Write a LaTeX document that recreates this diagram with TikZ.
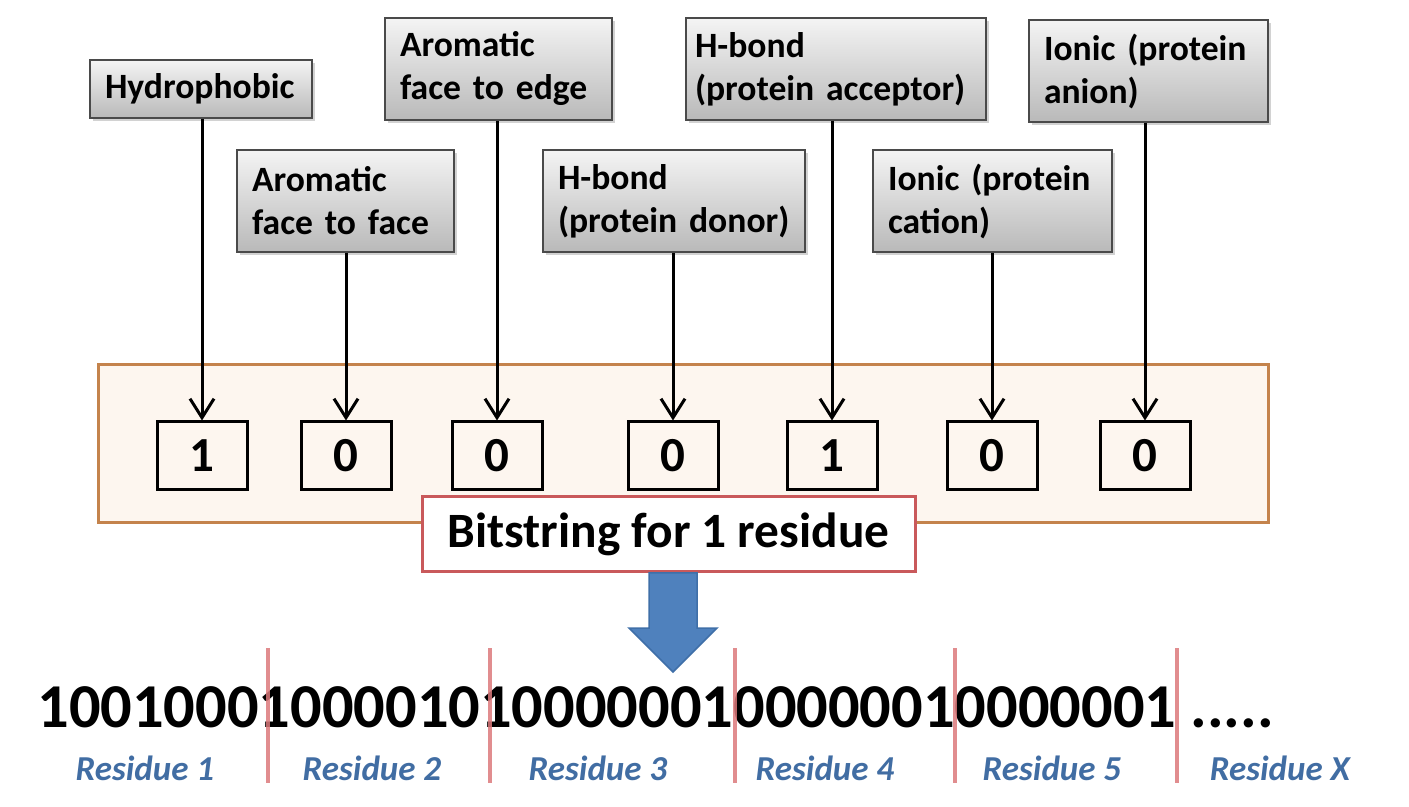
\documentclass[tikz,border=0pt]{standalone}
\usepackage{fontspec}
\setmainfont{Carlito}
\usetikzlibrary{arrows.meta,shadows}
\definecolor{boxborder}{HTML}{4A4A4A}
\definecolor{gtop}{HTML}{F4F4F4}
\definecolor{gbot}{HTML}{B9B9B9}
\definecolor{panelfill}{HTML}{FDF6EF}
\definecolor{panelline}{HTML}{C4834C}
\definecolor{labline}{HTML}{C9595B}
\definecolor{bigarrow}{HTML}{4F81BD}
\definecolor{bigarrowline}{HTML}{3F6FA8}
\definecolor{sepline}{HTML}{DC7A7C}
\definecolor{resblue}{HTML}{416DA3}
\newcommand\nohyph{\hyphenpenalty=10000 \exhyphenpenalty=10000 }
\begin{document}
\begin{tikzpicture}[x=0.5pt,y=-0.5pt,
  feat/.style={draw=boxborder, line width=1pt, top color=gtop, bottom color=gbot,
    drop shadow={shadow xshift=1.5pt, shadow yshift=-1.5pt, opacity=0.35},
    align=left, inner xsep=7.5pt, inner ysep=0pt,
    font={\fontsize{17.8}{21.5}\selectfont\bfseries\nohyph},
    text width=#1, minimum height=51pt},
  bitbox/.style={draw=black, line width=1.5pt, minimum width=45pt, minimum height=34pt,
    inner sep=0pt, font=\fontsize{24.5}{29}\selectfont\bfseries},
  conn/.style={-{Straight Barb[length=9.5pt,width=12pt]}, line width=1.5pt},
  sepbar/.style={draw=sepline, line width=2pt, opacity=0.85},
  res/.style={text=resblue, font=\fontsize{17.5}{21}\selectfont\bfseries\itshape, inner sep=0pt}
]
\useasboundingbox[fill=white] (0,0) rectangle (1409,807);

% panel
\node (panel) [draw=panelline, fill=panelfill, line width=1.5pt, minimum width=585pt, minimum height=79pt] at (683,444) {};

% bit boxes
\node (bit1) [bitbox] at (202,456) {1};
\node (bit2) [bitbox] at (346,456) {0};
\node (bit3) [bitbox] at (497,456) {0};
\node (bit4) [bitbox] at (673,456) {0};
\node (bit5) [bitbox] at (832,456) {1};
\node (bit6) [bitbox] at (992,456) {0};
\node (bit7) [bitbox] at (1145,456) {0};

% feature labels
\node (lab1) [feat=96pt, minimum height=29pt] at (201,89) {Hydrophobic};
\node (lab2) [feat=93.5pt] at (345.5,201) {Aromatic\\face to face};
\node (lab3) [feat=98.5pt] at (498.5,69) {Aromatic\\face to edge};
\node (lab4) [feat=116pt] at (674,201) {H-bond\\(protein donor)};
\node (lab5) [feat=141pt, inner xsep=4.5pt] at (836,69) {H-bond\\(protein acceptor)};
\node (lab6) [feat=104.5pt] at (992.5,201) {Ionic (protein\\cation)};
\node (lab7) [feat=104.5pt] at (1148.5,71) {Ionic (protein\\anion)};

% arrows
\foreach \i in {1,...,7}{
  \draw[conn] (lab\i.south -| bit\i.north) -- (bit\i.north);
}

% bitstring label
\node (bs) [draw=labline, line width=1.5pt, fill=white, minimum width=246.5pt, minimum height=37.5pt,
  font=\fontsize{24.7}{29}\selectfont\bfseries] at (668.5,534.5) {Bitstring for 1 residue};

% big blue arrow
\coordinate (ba) at (673,573);
\draw[fill=bigarrow, draw=bigarrowline, line width=0.75pt]
  ([xshift=-12pt]ba) -- ([xshift=12pt]ba) -- ([xshift=12pt,yshift=-27.5pt]ba)
  -- ([xshift=22pt,yshift=-27.5pt]ba) -- ([yshift=-49.5pt]ba)
  -- ([xshift=-22pt,yshift=-27.5pt]ba) -- ([xshift=-12pt,yshift=-27.5pt]ba) -- cycle;

% bit string
\node (bits) [anchor=base west, inner sep=0pt, font=\fontsize{31.2}{36}\selectfont\bfseries] at (37,727)
  {100100010000101000000100000010000001 .....};

% separators
\foreach \x in {268,490,735,955,1177}{
  \draw[sepbar] (\x,648) -- (\x,783);
}

% residue labels
\node (r1) [res] at (145,768) {Residue 1};
\node (r2) [res] at (372,768) {Residue 2};
\node (r3) [res] at (598,768) {Residue 3};
\node (r4) [res] at (825,768) {Residue 4};
\node (r5) [res] at (1052,768) {Residue 5};
\node (r6) [res] at (1280,768) {Residue X};
\end{tikzpicture}
\end{document}
